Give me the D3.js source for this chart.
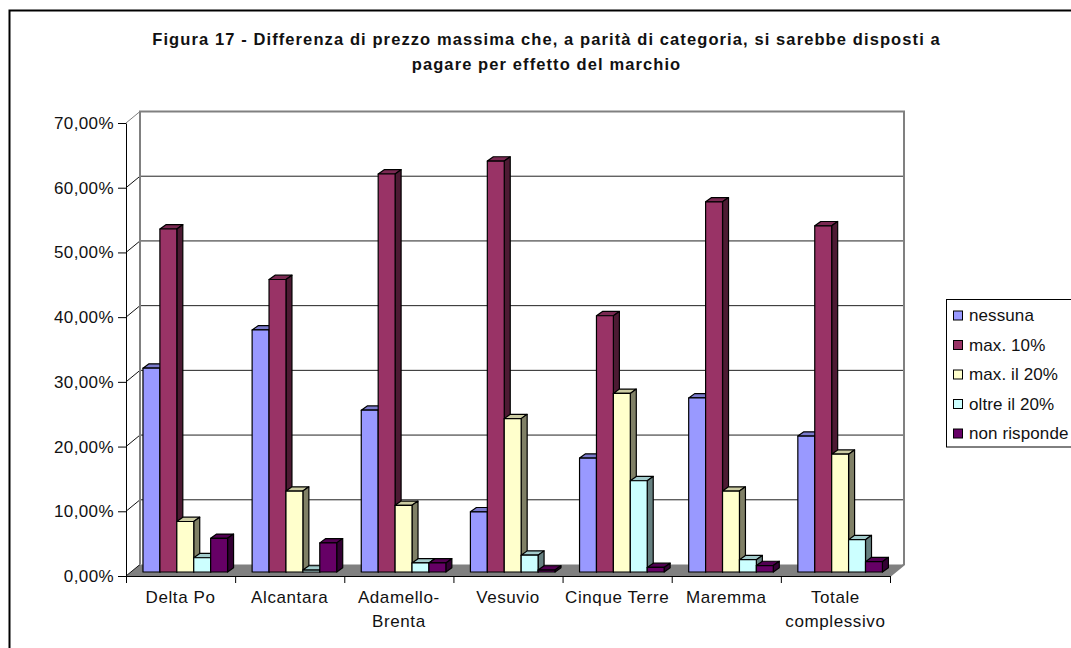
<!DOCTYPE html>
<html>
<head>
<meta charset="utf-8">
<script src="https://cdn.jsdelivr.net/npm/d3@7"></script>
<style>
  html, body { margin: 0; padding: 0; background: #fff; overflow: hidden; }
  svg { display: block; font-family: "Liberation Sans", Arial, sans-serif; }
  text { fill: #111; }
</style>
</head>
<body>
<svg width="1071" height="648"></svg>
<script>
var titleLines = [
  "Figura 17 - Differenza di prezzo massima che, a parità di categoria, si sarebbe disposti a",
  "pagare per effetto del marchio"
];
var categories = [
  ["Delta Po"],
  ["Alcantara"],
  ["Adamello-", "Brenta"],
  ["Vesuvio"],
  ["Cinque Terre"],
  ["Maremma"],
  ["Totale", "complessivo"]
];
var seriesNames = ["nessuna", "max. 10%", "max. il 20%", "oltre il 20%", "non risponde"];
var seriesColors = ["#9999ff", "#993366", "#ffffcc", "#ccffff", "#660066"];

var nessuna = [31.5, 37.4, 25.0, 9.3, 17.6, 26.9, 21.0];
var max10 = [53.0, 45.2, 61.5, 63.5, 39.6, 57.2, 53.5];
var max20 = [7.8, 12.5, 10.3, 23.7, 27.6, 12.5, 18.2];
var oltre20 = [2.2, 0.3, 1.4, 2.6, 14.1, 1.9, 5.0];
var nonRisponde = [5.2, 4.5, 1.4, 0.3, 0.7, 1.0, 1.6];
var seriesValues = [nessuna, max10, max20, oltre20, nonRisponde];

var yTicks = [0, 10, 20, 30, 40, 50, 60, 70];

var svg = d3.select("svg");

// outer frame runs off the right and bottom of the picture
svg.append("rect")
  .attr("x", 9.5).attr("y", 10.5)
  .attr("width", 1200).attr("height", 800)
  .attr("fill", "#fff").attr("stroke", "#000").attr("stroke-width", 2);

svg.selectAll("text.title")
  .data(titleLines)
  .enter().append("text")
  .attr("class", "title")
  .attr("x", 546.5)
  .attr("y", function(d, i) { return 45 + i * 25; })
  .attr("text-anchor", "middle")
  .attr("font-size", 16.5)
  .attr("font-weight", "bold")
  .attr("letter-spacing", 1.1)
  .text(function(d) { return d; });

// 3d box: wall is shifted from the axis plane by depth
var left = 126, right = 890;
var depthX = 14, depthY = -11.5;
var barDX = 6, barDY = -4.3, barShiftX = 4.7, barShiftY = -4;

var y = d3.scaleLinear().domain([0, 70]).range([576, 123]);
var x = d3.scaleBand().domain(d3.range(categories.length)).range([left, right])
  .paddingInner(0.225).paddingOuter(0.1125);
var xSeries = d3.scaleBand().domain(d3.range(seriesNames.length)).range([0, x.bandwidth()]);

// floor
svg.append("polygon")
  .attr("points", [[left, y(0)], [right, y(0)], [right + depthX, y(0) + depthY], [left + depthX, y(0) + depthY]].join(" "))
  .attr("fill", "#808080");

// grid on the back wall and on the left side wall
var grid = svg.append("g");
grid.selectAll("line.h")
  .data(yTicks.slice(1, -1))
  .enter().append("line")
  .attr("x1", left + depthX).attr("x2", right + depthX)
  .attr("y1", function(d) { return y(d) + depthY; })
  .attr("y2", function(d) { return y(d) + depthY; })
  .attr("stroke", "#222");
grid.selectAll("line.d")
  .data(yTicks)
  .enter().append("line")
  .attr("x1", left).attr("x2", left + depthX)
  .attr("y1", function(d) { return y(d); })
  .attr("y2", function(d) { return y(d) + depthY; })
  .attr("stroke", function(d) { return d == 70 ? "#808080" : "#111"; });

// wall outline
svg.append("path")
  .attr("d", "M" + (left + depthX) + "," + (y(0) + depthY) +
    "V" + (y(70) + depthY) + "H" + (right + depthX) + "V" + (y(0) + depthY) +
    "L" + right + "," + y(0))
  .attr("fill", "none").attr("stroke", "#808080").attr("stroke-width", 2);

// bars: front, top and side faces
function shade(c, k) {
  var r = d3.rgb(c);
  return d3.rgb(r.r * k, r.g * k, r.b * k).formatHex();
}
var groups = svg.selectAll("g.cat")
  .data(categories)
  .enter().append("g")
  .attr("class", "cat")
  .attr("transform", function(d, i) { return "translate(" + (x(i) + barShiftX) + "," + barShiftY + ")"; });

groups.each(function(c, ci) {
  var g = d3.select(this);
  seriesValues.forEach(function(vals, si) {
    var x0 = xSeries(si), x1 = x0 + xSeries.bandwidth();
    var top = y(vals[ci]), base = y(0);
    var col = seriesColors[si];
    var bar = g.append("g")
      .attr("stroke", "#000").attr("stroke-width", 1.2).attr("stroke-linejoin", "round");
    bar.append("polygon")
      .attr("points", [[x0, top], [x0 + barDX, top + barDY], [x1 + barDX, top + barDY], [x1, top]].join(" "))
      .attr("fill", shade(col, 0.8));
    bar.append("polygon")
      .attr("points", [[x1, top], [x1 + barDX, top + barDY], [x1 + barDX, base + barDY], [x1, base]].join(" "))
      .attr("fill", shade(col, 0.5));
    bar.append("rect")
      .attr("x", x0).attr("y", top)
      .attr("width", x1 - x0).attr("height", base - top)
      .attr("fill", col);
  });
});

// axes
var yAxis = d3.axisLeft(y)
  .tickValues(yTicks)
  .tickSize(8)
  .tickSizeOuter(0)
  .tickPadding(4)
  .tickFormat(function(d) { return d + ",00%"; });
var gy = svg.append("g")
  .attr("transform", "translate(" + left + ",0)")
  .call(yAxis);
gy.selectAll("text").attr("font-size", 17).attr("letter-spacing", 0.4).attr("font-family", "inherit");
gy.selectAll("line, path").attr("stroke", "#000");

var xTickScale = d3.scaleLinear().domain([0, categories.length]).range([left, right]);
var gx = svg.append("g")
  .attr("transform", "translate(0," + y(0) + ")")
  .call(d3.axisBottom(xTickScale).tickValues(d3.range(categories.length + 1)).tickSize(7).tickSizeOuter(0).tickFormat(""));
gx.selectAll("line, path").attr("stroke", "#000");

svg.selectAll("text.cat")
  .data(categories)
  .enter().append("text")
  .attr("class", "cat")
  .attr("text-anchor", "middle")
  .attr("font-size", 17)
  .attr("letter-spacing", 0.6)
  .each(function(lines, i) {
    d3.select(this).selectAll("tspan")
      .data(lines)
      .enter().append("tspan")
      .attr("x", xTickScale(i + 0.5))
      .attr("y", function(d, j) { return 603 + j * 24; })
      .text(function(d) { return d; });
  });

// legend box runs off the right edge as well
var legend = svg.append("g");
legend.append("rect")
  .attr("x", 946.5).attr("y", 299.5)
  .attr("width", 160).attr("height", 147.5)
  .attr("fill", "#fff").attr("stroke", "#000");
var legendY = d3.scalePoint().domain(seriesNames).range([315, 433]);
legend.selectAll("rect.key")
  .data(seriesNames)
  .enter().append("rect")
  .attr("class", "key")
  .attr("x", 953.5)
  .attr("y", function(d) { return legendY(d) - 4; })
  .attr("width", 9).attr("height", 9)
  .attr("fill", function(d, i) { return seriesColors[i]; })
  .attr("stroke", "#000");
legend.selectAll("text.key")
  .data(seriesNames)
  .enter().append("text")
  .attr("class", "key")
  .attr("x", 969)
  .attr("y", function(d) { return legendY(d) + 6; })
  .attr("font-size", 17)
  .attr("letter-spacing", 0.1)
  .text(function(d) { return d; });
</script>
</body>
</html>
